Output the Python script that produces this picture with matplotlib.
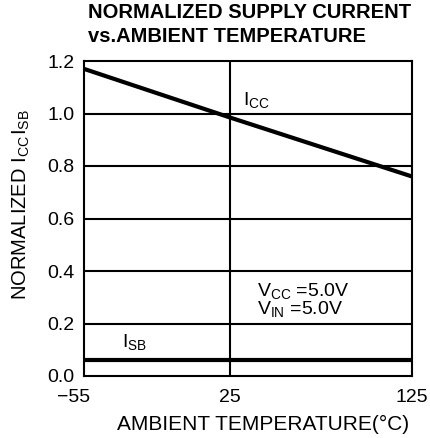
import matplotlib
matplotlib.use('Agg')
import matplotlib.pyplot as plt
import matplotlib.transforms as mtransforms

plt.rcParams['font.family'] = 'Liberation Sans'
plt.rcParams['mathtext.fontset'] = 'custom'
plt.rcParams['mathtext.rm'] = 'Liberation Sans'
plt.rcParams['mathtext.it'] = 'Liberation Sans'

# data
temps = [-55, 25, 125]
icc = [1.17, 0.985, 0.76]
isb = [0.062, 0.062, 0.062]
yticks = [0.0, 0.2, 0.4, 0.6, 0.8, 1.0, 1.2]
xticks = [-55, 25, 125]
xticklabels = ['\u221255', '25', '125']

fig = plt.figure(figsize=(4.30, 4.38), dpi=100)
ax = fig.add_axes([84 / 430, 1 - 376 / 438, 328 / 430, 315 / 438])

ax.plot(temps, icc, color='black', lw=3.0, solid_capstyle='butt', zorder=3)
ax.plot(temps, isb, color='black', lw=3.0, solid_capstyle='butt', zorder=3)

ax.set_xlim(-55, 125)
ax.set_ylim(0, 1.2)
ax.set_xticks(xticks)
ax.set_xticklabels(xticklabels)
ax.set_yticks(yticks)
ax.set_yticklabels(['%.1f' % v for v in yticks])
ax.tick_params(length=0, labelsize=14, colors='black')
ax.tick_params(axis='x', pad=9)
ax.tick_params(axis='y', pad=7)
# the -55 label sits a bit left of the axis corner
xl = ax.get_xticklabels()
xl[0].set_transform(xl[0].get_transform() +
                    mtransforms.ScaledTranslation(-10 / 100, 0, fig.dpi_scale_trans))

# grid: horizontal at every tick, vertical only at 25
for v in yticks[1:-1]:
    ax.axhline(v, color='black', lw=1.5, zorder=1)
ax.axvline(25, color='black', lw=1.5, zorder=1)
for s in ax.spines.values():
    s.set_linewidth(1.5)
    s.set_color('black')

ax.text(32, 1.032, r'I$_{\mathregular{CC}}$', fontsize=14, va='baseline')
ax.text(-34, 0.11, r'I$_{\mathregular{SB}}$', fontsize=14, va='baseline')
ax.text(40, 0.305, r'V$_{\mathregular{CC}}$ =5.0V', fontsize=14, va='baseline')
ax.text(40, 0.236, r'V$_{\mathregular{IN}}$ =5.0V', fontsize=14, va='baseline')

fig.text(263 / 430, 1 - 430 / 438, 'AMBIENT TEMPERATURE(\u00b0C)',
         fontsize=15, ha='center', va='baseline')

fig.text(88 / 430, 1 - 3 / 438, 'NORMALIZED SUPPLY CURRENT\nvs.AMBIENT TEMPERATURE',
         fontsize=14.5, fontweight='bold', ha='left', va='top', linespacing=1.3)

# y label in two pieces, as in the reference
fig.text(11 / 430, 1 - 300 / 438, r'NORMALIZED I$_{\mathregular{CC}}$', rotation=90,
         fontsize=14.5, ha='left', va='bottom')
fig.text(11 / 430, 1 - 135 / 438, r'I$_{\mathregular{SB}}$', rotation=90,
         fontsize=14.5, ha='left', va='bottom')

fig.savefig('out.png', dpi=100)
